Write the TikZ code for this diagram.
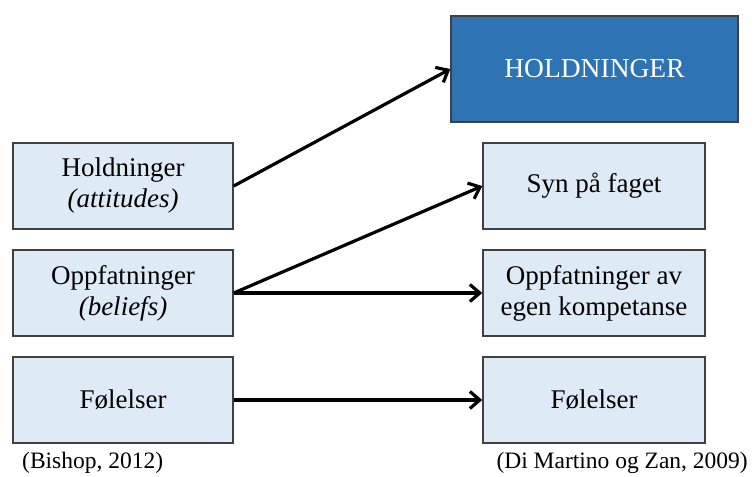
\documentclass[tikz,border=0pt]{standalone}
\usepackage{fontspec}
\setmainfont{Liberation Serif}
\usetikzlibrary{arrows.meta}
\definecolor{boxfill}{HTML}{DEEAF6}
\definecolor{bigfill}{HTML}{2E74B5}
\definecolor{boxline}{HTML}{404040}
\begin{document}
\begin{tikzpicture}[x=1pt,y=-1pt,
  lbox/.style={draw=boxline,line width=1.4pt,fill=boxfill,minimum width=220pt,minimum height=86pt,inner sep=0pt,align=center,font=\fontsize{27}{31}\selectfont},
  bigbox/.style={draw=boxline,line width=1.4pt,fill=bigfill,minimum width=287pt,minimum height=106pt,inner sep=0pt,align=center,text=white,font=\fontsize{27.5}{31}\selectfont},
  arr/.style={line width=3.2pt,-{Straight Barb[length=10pt,width=17pt,line width=3.2pt]}},
  cite/.style={font=\fontsize{23.5}{28}\selectfont,inner sep=0pt}]
\useasboundingbox (0,0) rectangle (754,476);
\node[bigbox] (big) at (594.5,69) {HOLDNINGER};
\node[lbox] (h) at (123,186) {Holdninger\\\textit{(attitudes)}};
\node[lbox] (o) at (123,293) {Oppfatninger\\\textit{(beliefs)}};
\node[lbox] (f) at (123,400) {Følelser};
\node[lbox,minimum width=222pt] (s) at (594,186) {Syn på faget};
\node[lbox,minimum width=222pt] (k) at (594,293) {Oppfatninger av\\egen kompetanse};
\node[lbox,minimum width=222pt] (f2) at (594,400) {Følelser};
\draw[arr] (h.east) -- (big.west);
\draw[arr] (o.east) -- (s.west);
\draw[arr] (o.east) -- (k.west);
\draw[arr] (f.east) -- (f2.west);
\node[cite,anchor=west] (c1) at (22,463) {(Bishop, 2012)};
\node[cite,anchor=east] (c2) at (748,463) {(Di Martino og Zan, 2009)};
\end{tikzpicture}
\end{document}
